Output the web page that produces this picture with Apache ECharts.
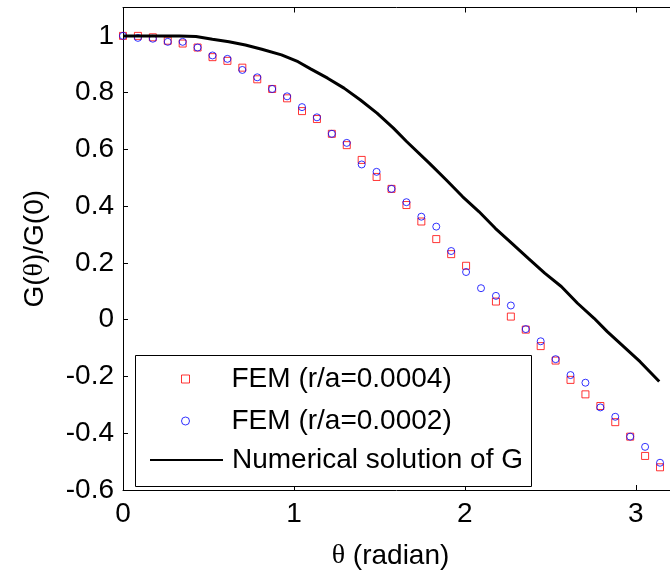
<!DOCTYPE html>
<html><head><meta charset="utf-8">
<script src="https://cdn.jsdelivr.net/npm/echarts@6/dist/echarts.min.js"></script>
<style>html,body{margin:0;padding:0;background:#fff}#c{width:670px;height:576px}</style>
</head><body><div id="c"></div>
<script>
// FEM sample angles (degrees)
const thetaDeg = [0,5,10,15,20,25,30,35,40,45,50,55,60,65,70,75,80,85,90,95,100,105,110,115,120,125,130,135,140,145,150,155,160,165,170,175,180];
// FEM (r/a=0.0004) – red squares
const femR0004 = [1.0,1.0,0.995,0.983,0.973,0.959,0.925,0.912,0.888,0.847,0.813,0.780,0.735,0.707,0.655,0.615,0.563,0.503,0.461,0.404,0.346,0.284,0.231,0.190,null,0.064,0.011,-0.035,-0.093,-0.144,-0.212,-0.263,-0.304,-0.361,-0.412,-0.480,-0.520];
// FEM (r/a=0.0002) – blue circles
const femR0002 = [1.0,0.993,0.990,0.979,0.979,0.959,0.931,0.919,0.880,0.854,0.813,0.787,0.749,0.713,0.655,0.623,0.547,0.521,0.461,0.414,0.363,0.328,0.242,0.168,0.111,0.084,0.050,-0.033,-0.076,-0.139,-0.195,-0.222,-0.309,-0.342,-0.412,-0.448,-0.504];
// Numerical solution of G
const numTheta = [0,0.042,0.331,0.427,0.523,0.620,0.716,0.812,0.927,1.024,1.100,1.197,1.293,1.389,1.486,1.582,1.659,1.793,1.890,1.986,2.082,2.178,2.275,2.371,2.467,2.564,2.659,2.756,2.833,2.929,3.025,3.137];
const numG = [1.0,1.0,1.0,0.998,0.988,0.979,0.968,0.953,0.933,0.909,0.883,0.851,0.816,0.774,0.728,0.675,0.628,0.551,0.493,0.434,0.381,0.322,0.269,0.216,0.164,0.117,0.058,0.005,-0.042,-0.095,-0.148,-0.218];
const seriesNames = ['FEM (r/a=0.0004)','FEM (r/a=0.0002)','Numerical solution of G'];

const FF = "'Liberation Sans', Arial, Helvetica, sans-serif";
const SERIF = "'Liberation Serif', 'DejaVu Serif', serif";
const chart = echarts.init(document.getElementById('c'), null, {renderer:'canvas'});
const toRad = d => d * Math.PI / 180;
const sq = thetaDeg.map((d,i) => [toRad(d), femR0004[i]]).filter(p => p[1] !== null);
const ci = thetaDeg.map((d,i) => [toRad(d), femR0002[i]]);
const ln = numTheta.map((t,i) => [t, numG[i]]);

const axisCommon = {
  axisLine:{show:true, onZero:false, lineStyle:{color:'#000', width:1}},
  axisTick:{show:true, inside:true, length:5, lineStyle:{color:'#000', width:1}},
  splitLine:{show:false}
};
const legendText = (padLeft) => ({fontSize:28, color:'#000', fontFamily:FF, lineHeight:28, padding:[0,0,0,padLeft]});
const redStyle = {color:'rgba(255,255,255,0)', borderColor:'#ff0000', borderWidth:1};
const blueStyle = {color:'rgba(255,255,255,0)', borderColor:'#0000ff', borderWidth:1};
chart.setOption({
  animation:false,
  backgroundColor:'#fff',
  grid:{left:123, top:7.5, width:554, height:482.5, containLabel:false},
  xAxis:[
    Object.assign({type:'value', min:0, max:3.2, interval:1, position:'bottom',
      axisLabel:{fontSize:28, color:'#000', fontFamily:FF, margin:10, showMaxLabel:false},
      name:'{t|θ} (radian)', nameLocation:'middle', nameGap:52,
      nameTextStyle:{fontSize:28, color:'#000', fontFamily:FF, padding:[0,12,0,0],
        rich:{t:{fontFamily:SERIF, fontSize:28, color:'#000'}}}
    }, axisCommon),
    Object.assign({type:'value', min:0, max:3.2, interval:1, position:'top',
      axisLabel:{show:false}}, axisCommon)
  ],
  yAxis:[
    Object.assign({type:'value', min:-0.6, max:1.1, interval:0.2, position:'left',
      axisLabel:{fontSize:28, color:'#000', fontFamily:FF, margin:9, showMaxLabel:false},
      name:'{a|G(}{t|θ}{a|)/G(0)}', nameLocation:'middle', nameGap:74, nameRotate:90,
      nameTextStyle:{fontSize:28, color:'#000', fontFamily:FF,
        rich:{a:{fontFamily:FF, fontSize:28, color:'#000'}, t:{fontFamily:SERIF, fontSize:28, color:'#000'}}}
    }, axisCommon)
  ],
  legend:[
    {orient:'vertical', left:181, top:365, padding:0, itemWidth:8, itemHeight:8, selectedMode:false, z:5,
      textStyle:legendText(37), itemStyle:redStyle,
      data:[{name:seriesNames[0], icon:'rect', itemStyle:redStyle}]},
    {orient:'vertical', left:181, top:407, padding:0, itemWidth:8, itemHeight:8, selectedMode:false, z:5,
      textStyle:legendText(37), itemStyle:blueStyle,
      data:[{name:seriesNames[1], icon:'circle', itemStyle:blueStyle}]},
    {orient:'vertical', left:149, top:446, padding:0, itemWidth:73, itemHeight:8, selectedMode:false, z:5,
      textStyle:legendText(4),
      data:[{name:seriesNames[2], itemStyle:{color:'rgba(0,0,0,0)', borderColor:'rgba(0,0,0,0)', borderWidth:0}}]}
  ],
  graphic:[{type:'rect', z:4, shape:{x:135.5, y:355.5, width:396, height:131},
    style:{fill:'#fff', stroke:'#000', lineWidth:1}}],
  series:[
    {name:seriesNames[0], type:'scatter', data:sq, symbol:'rect', symbolSize:7, z:2, itemStyle:redStyle},
    {name:seriesNames[1], type:'scatter', data:ci, symbol:'circle', symbolSize:7, z:2, itemStyle:blueStyle},
    {name:seriesNames[2], type:'line', data:ln, symbol:'none', showSymbol:false, z:3,
      lineStyle:{color:'#000', width:3}, itemStyle:{color:'#000'}}
  ]
});
</script></body></html>
